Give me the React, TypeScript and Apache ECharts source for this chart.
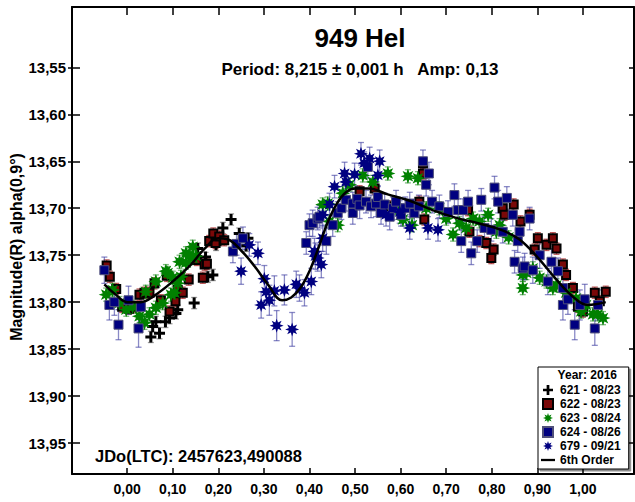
import React, { useEffect, useRef } from "react";
import * as echarts from "echarts";

// Rotational phase ticks and magnitude ticks
const PHASE_TICKS = [0, 0.1, 0.2, 0.3, 0.4, 0.5, 0.6, 0.7, 0.8, 0.9, 1.0];
const MAG_TICKS = [13.55, 13.6, 13.65, 13.7, 13.75, 13.8, 13.85, 13.9, 13.95];

// Observations per session: [phase, reduced magnitude, error]
const obs621: number[][] = [
  [0.052, 13.837, 0.006], [0.056, 13.826, 0.006], [0.063, 13.821, 0.006], [0.071, 13.833, 0.006],
  [0.084, 13.821, 0.006], [0.093, 13.817, 0.006], [0.107, 13.812, 0.006], [0.111, 13.808, 0.005],
  [0.147, 13.801, 0.006], [0.155, 13.743, 0.006], [0.172, 13.752, 0.005], [0.177, 13.773, 0.006],
  [0.188, 13.771, 0.006], [0.195, 13.739, 0.006], [0.205, 13.731, 0.005], [0.210, 13.721, 0.006],
  [0.228, 13.712, 0.006], [0.246, 13.727, 0.006], [0.261, 13.740, 0.006], [0.265, 13.732, 0.006],
];

const obs622: number[][] = [
  [-0.045, 13.761, 0.006], [-0.038, 13.773, 0.006], [-0.024, 13.786, 0.006], [-0.011, 13.805, 0.006],
  [0.004, 13.807, 0.006], [0.016, 13.805, 0.006], [0.027, 13.792, 0.006], [0.038, 13.79, 0.006],
  [0.049, 13.79, 0.006], [0.06, 13.78, 0.006], [0.074, 13.798, 0.006], [0.087, 13.772, 0.006],
  [0.093, 13.81, 0.006], [0.106, 13.799, 0.006], [0.111, 13.787, 0.006], [0.122, 13.79, 0.006],
  [0.135, 13.776, 0.006], [0.153, 13.755, 0.006], [0.166, 13.774, 0.006], [0.17, 13.76, 0.006],
  [0.175, 13.759, 0.006], [0.18, 13.735, 0.006], [0.189, 13.727, 0.006], [0.194, 13.737, 0.006],
  [0.202, 13.73, 0.006], [0.213, 13.734, 0.006], [0.51, 13.682, 0.006], [0.543, 13.679, 0.006],
  [0.579, 13.698, 0.006], [0.641, 13.693, 0.006], [0.649, 13.652, 0.006], [0.649, 13.663, 0.006],
  [0.652, 13.712, 0.006], [0.748, 13.702, 0.006], [0.751, 13.725, 0.006], [0.773, 13.735, 0.006],
  [0.788, 13.737, 0.006], [0.799, 13.753, 0.006], [0.804, 13.744, 0.006], [0.824, 13.7, 0.006],
  [0.828, 13.707, 0.006], [0.848, 13.696, 0.006], [0.863, 13.714, 0.006], [0.883, 13.707, 0.006],
  [0.894, 13.744, 0.006], [0.901, 13.732, 0.006], [0.92, 13.739, 0.006], [0.934, 13.732, 0.006],
  [0.942, 13.743, 0.006], [0.956, 13.76, 0.006], [0.963, 13.771, 0.006], [0.978, 13.785, 0.006],
  [0.989, 13.805, 0.006], [1.0, 13.81, 0.006], [1.026, 13.79, 0.006], [1.037, 13.799, 0.006],
  [1.05, 13.789, 0.006],
];

const obs623: number[][] = [
  [-0.046, 13.792, 0.007], [-0.032, 13.787, 0.007], [-0.017, 13.801, 0.007], [-0.002, 13.808, 0.007],
  [0.012, 13.805, 0.007], [0.027, 13.815, 0.007], [0.038, 13.822, 0.007], [0.041, 13.789, 0.007],
  [0.049, 13.813, 0.007], [0.063, 13.806, 0.007], [0.063, 13.778, 0.007], [0.078, 13.801, 0.007],
  [0.085, 13.767, 0.007], [0.089, 13.769, 0.007], [0.096, 13.792, 0.007], [0.1, 13.774, 0.007],
  [0.104, 13.79, 0.007], [0.111, 13.78, 0.007], [0.115, 13.757, 0.007], [0.118, 13.773, 0.007],
  [0.129, 13.758, 0.007], [0.129, 13.748, 0.007], [0.137, 13.75, 0.007], [0.144, 13.741, 0.007],
  [0.144, 13.753, 0.007], [0.151, 13.751, 0.007], [0.429, 13.696, 0.007], [0.44, 13.695, 0.007],
  [0.444, 13.714, 0.007], [0.462, 13.718, 0.007], [0.473, 13.684, 0.007], [0.488, 13.675, 0.007],
  [0.517, 13.665, 0.007], [0.539, 13.672, 0.007], [0.572, 13.663, 0.007], [0.59, 13.7, 0.007],
  [0.605, 13.712, 0.007], [0.616, 13.666, 0.007], [0.625, 13.718, 0.007], [0.638, 13.668, 0.007],
  [0.656, 13.7, 0.007], [0.685, 13.7, 0.007], [0.7, 13.711, 0.007], [0.715, 13.728, 0.007],
  [0.729, 13.716, 0.007], [0.744, 13.721, 0.007], [0.759, 13.711, 0.007], [0.773, 13.714, 0.007],
  [0.792, 13.707, 0.007], [0.81, 13.725, 0.007], [0.817, 13.718, 0.007], [0.837, 13.731, 0.007],
  [0.868, 13.771, 0.007], [0.868, 13.785, 0.007], [0.876, 13.769, 0.007], [0.89, 13.764, 0.007],
  [0.905, 13.774, 0.007], [0.92, 13.778, 0.007], [0.934, 13.785, 0.007], [0.942, 13.782, 0.007],
  [0.963, 13.79, 0.007], [0.985, 13.796, 0.007], [0.996, 13.81, 0.007], [1.007, 13.803, 0.007],
  [1.022, 13.813, 0.007], [1.033, 13.813, 0.007], [1.044, 13.817, 0.007],
];

const obs624: number[][] = [
  [-0.05, 13.766, 0.014], [-0.039, 13.803, 0.016], [-0.028, 13.8, 0.014], [-0.019, 13.824, 0.016],
  [0.003, 13.798, 0.015], [0.025, 13.828, 0.02], [0.03, 13.805, 0.016], [0.232, 13.746, 0.012],
  [0.24, 13.738, 0.012], [0.254, 13.732, 0.012], [0.393, 13.737, 0.012], [0.4, 13.718, 0.012],
  [0.407, 13.716, 0.014], [0.418, 13.711, 0.012], [0.422, 13.709, 0.012], [0.437, 13.735, 0.014],
  [0.451, 13.718, 0.012], [0.462, 13.705, 0.012], [0.47, 13.7, 0.012], [0.48, 13.691, 0.012],
  [0.495, 13.695, 0.012], [0.495, 13.705, 0.012], [0.505, 13.69, 0.012], [0.51, 13.697, 0.014],
  [0.524, 13.693, 0.012], [0.528, 13.656, 0.012], [0.535, 13.698, 0.012], [0.546, 13.695, 0.014],
  [0.55, 13.688, 0.012], [0.557, 13.705, 0.012], [0.565, 13.696, 0.012], [0.576, 13.709, 0.014],
  [0.583, 13.7, 0.012], [0.59, 13.693, 0.012], [0.601, 13.707, 0.012], [0.61, 13.7, 0.012],
  [0.62, 13.695, 0.012], [0.63, 13.705, 0.012], [0.64, 13.698, 0.012], [0.649, 13.65, 0.012],
  [0.656, 13.675, 0.012], [0.662, 13.663, 0.012], [0.669, 13.693, 0.012], [0.685, 13.698, 0.012],
  [0.704, 13.704, 0.012], [0.718, 13.686, 0.012], [0.726, 13.702, 0.012], [0.733, 13.735, 0.012],
  [0.737, 13.702, 0.012], [0.748, 13.693, 0.012], [0.755, 13.748, 0.012], [0.768, 13.735, 0.012],
  [0.777, 13.691, 0.012], [0.784, 13.721, 0.012], [0.799, 13.723, 0.012], [0.806, 13.678, 0.012],
  [0.814, 13.693, 0.012], [0.824, 13.725, 0.012], [0.833, 13.689, 0.012], [0.846, 13.707, 0.012],
  [0.85, 13.757, 0.012], [0.857, 13.735, 0.012], [0.861, 13.725, 0.012], [0.868, 13.764, 0.012],
  [0.872, 13.762, 0.014], [0.883, 13.711, 0.012], [0.89, 13.766, 0.014], [0.905, 13.75, 0.014],
  [0.923, 13.778, 0.014], [0.931, 13.757, 0.014], [0.945, 13.767, 0.014], [0.956, 13.785, 0.016],
  [0.956, 13.803, 0.016], [0.967, 13.797, 0.016], [0.982, 13.824, 0.016], [0.993, 13.803, 0.016],
  [1.004, 13.797, 0.016], [1.026, 13.828, 0.018], [1.033, 13.803, 0.016],
];

const obs679: number[][] = [
  [0.25, 13.767, 0.014], [0.268, 13.739, 0.012], [0.287, 13.748, 0.012], [0.294, 13.803, 0.014],
  [0.301, 13.775, 0.014], [0.305, 13.789, 0.014], [0.312, 13.798, 0.016], [0.323, 13.788, 0.016],
  [0.328, 13.825, 0.016], [0.345, 13.787, 0.016], [0.362, 13.829, 0.018], [0.371, 13.781, 0.014],
  [0.378, 13.785, 0.014], [0.389, 13.79, 0.014], [0.404, 13.778, 0.014], [0.411, 13.746, 0.014],
  [0.413, 13.751, 0.014], [0.418, 13.753, 0.014], [0.426, 13.76, 0.014], [0.429, 13.732, 0.014],
  [0.429, 13.707, 0.012], [0.444, 13.696, 0.012], [0.455, 13.677, 0.012], [0.477, 13.663, 0.012],
  [0.48, 13.672, 0.012], [0.499, 13.664, 0.012], [0.513, 13.642, 0.012], [0.52, 13.652, 0.012],
  [0.532, 13.647, 0.012], [0.55, 13.665, 0.012], [0.554, 13.65, 0.012], [0.568, 13.707, 0.012],
  [0.598, 13.704, 0.012], [0.62, 13.721, 0.012], [0.66, 13.721, 0.012], [0.682, 13.723, 0.012],
];

// 6th order Fourier fit, sampled along phase
const fitCurve: number[][] = [
  [-0.05, 13.781], [-0.025, 13.792], [0.0, 13.8], [0.03, 13.8], [0.06, 13.793], [0.1, 13.778],
  [0.14, 13.76], [0.17, 13.743], [0.2, 13.732], [0.22, 13.733], [0.25, 13.745], [0.28, 13.762],
  [0.31, 13.782], [0.34, 13.798], [0.36, 13.795], [0.38, 13.785], [0.4, 13.767], [0.42, 13.742],
  [0.44, 13.715], [0.46, 13.695], [0.48, 13.683], [0.5, 13.679], [0.53, 13.679], [0.57, 13.685],
  [0.62, 13.692], [0.67, 13.702], [0.72, 13.71], [0.77, 13.716], [0.82, 13.723], [0.86, 13.733],
  [0.9, 13.752], [0.94, 13.775], [0.98, 13.795], [1.01, 13.803], [1.05, 13.8],
];

const FONT = "'Liberation Sans', Arial, sans-serif";
const PLUS = "path://M4,0H7V4H11V7H7V11H4V7H0V4H4Z";
const SQUARE = "path://M0,0H10V10H0Z";
const DASH = "path://M0,0H16V2.6H0Z";
// eight-armed asterisk
const STAR =
  "path://M20,10L14.6,11.9L17.07,17.07L11.9,14.6L10,20L8.1,14.6L2.93,17.07L5.4,11.9L0,10L5.4,8.1L2.93,2.93L8.1,5.4L10,0L11.9,5.4L17.07,2.93L14.6,8.1Z";

const comma2 = (v: number) => v.toFixed(2).replace(".", ",");

function errorBars(name: string, data: number[][], color: string) {
  return {
    name,
    type: "custom",
    data,
    encode: { x: 0, y: 1 },
    silent: true,
    renderItem: (_params: any, api: any) => {
      const x = api.value(0);
      const y = api.value(1);
      const e = api.value(2);
      const a = api.coord([x, y - e]);
      const b = api.coord([x, y + e]);
      const cap = 3;
      const style = { stroke: color, lineWidth: 1.3 };
      return {
        type: "group",
        children: [
          { type: "line", shape: { x1: a[0], y1: a[1], x2: b[0], y2: b[1] }, style },
          { type: "line", shape: { x1: a[0] - cap, y1: a[1], x2: a[0] + cap, y2: a[1] }, style },
          { type: "line", shape: { x1: b[0] - cap, y1: b[1], x2: b[0] + cap, y2: b[1] }, style },
        ],
      };
    },
  };
}

export default function App() {
  const ref = useRef<HTMLDivElement>(null);

  useEffect(() => {
    if (!ref.current) return;
    const chart = echarts.init(ref.current, null, { renderer: "svg" });

    const axisLine = { show: true, onZero: false, lineStyle: { color: "#000", width: 2 } };
    const xBase = { type: "value", min: -0.121, max: 1.112, splitLine: { show: false } };
    const yBase = { type: "value", min: 13.4857, max: 13.983, inverse: true, splitLine: { show: false } };
    const tickStyle = { color: "#000", width: 1.5 };

    chart.setOption({
      animation: false,
      backgroundColor: "#fff",
      textStyle: { fontFamily: FONT },
      title: [
        {
          text: "949 Hel",
          left: 355,
          top: 20,
          textAlign: "center",
          textStyle: { fontFamily: FONT, fontWeight: "bold", fontSize: 26, color: "#000" },
        },
        {
          text: "Period: 8,215 \u00b1 0,001 h   Amp: 0,13",
          left: 355,
          top: 56,
          textAlign: "center",
          textStyle: { fontFamily: FONT, fontWeight: "bold", fontSize: 17, color: "#000" },
        },
        {
          text: "JDo(LTC): 2457623,490088",
          left: 90,
          top: 442,
          textStyle: { fontFamily: FONT, fontWeight: "bold", fontSize: 16.5, color: "#000" },
        },
      ],
      grid: { left: 72, right: 1, top: 7, bottom: 28, containLabel: false },
      xAxis: [
        {
          ...xBase,
          position: "bottom",
          axisLine,
          axisTick: { show: true, inside: true, length: 6, customValues: PHASE_TICKS, lineStyle: tickStyle },
          axisLabel: {
            customValues: PHASE_TICKS,
            formatter: comma2,
            margin: 8,
            fontFamily: FONT,
            fontWeight: "bold",
            fontSize: 14,
            color: "#000",
          },
        },
        {
          ...xBase,
          position: "top",
          axisLine,
          axisTick: { show: true, inside: true, length: 8, customValues: PHASE_TICKS, lineStyle: tickStyle },
          axisLabel: { show: false },
        },
      ],
      yAxis: [
        {
          ...yBase,
          position: "left",
          axisLine,
          axisTick: { show: true, inside: true, length: 8, customValues: MAG_TICKS, lineStyle: tickStyle },
          axisLabel: {
            customValues: MAG_TICKS,
            formatter: comma2,
            margin: 6,
            fontFamily: FONT,
            fontWeight: "bold",
            fontSize: 15,
            color: "#000",
          },
        },
        {
          ...yBase,
          position: "right",
          axisLine,
          axisTick: { show: true, inside: true, length: 5, customValues: MAG_TICKS, lineStyle: tickStyle },
          axisLabel: { show: false },
        },
        {
          // short outward ticks on the left frame
          ...yBase,
          position: "left",
          axisLine: { show: false, onZero: false },
          axisTick: { show: true, inside: false, length: 4, customValues: MAG_TICKS, lineStyle: tickStyle },
          axisLabel: { show: false },
        },
      ],
      legend: {
        orient: "vertical",
        left: 538,
        top: 367,
        padding: [16, 8, 2, 3],
        itemWidth: 14,
        itemHeight: 10,
        itemGap: 0,
        backgroundColor: "#fff",
        borderColor: "#000",
        borderWidth: 1,
        shadowColor: "rgba(0,0,0,0.45)",
        shadowBlur: 1,
        shadowOffsetX: 2,
        shadowOffsetY: 2,
        textStyle: { fontFamily: FONT, fontWeight: "bold", fontSize: 12, color: "#000", lineHeight: 14 },
        data: [
          { name: "621 - 08/23", icon: PLUS },
          { name: "622 - 08/23", icon: SQUARE },
          { name: "623 - 08/24", icon: STAR },
          { name: "624 - 08/26", icon: SQUARE },
          { name: "679 - 09/21", icon: STAR },
          { name: "6th Order", icon: DASH },
        ],
      },
      graphic: [
        {
          type: "text",
          x: 617,
          y: 375,
          z: 100,
          style: {
            text: "Year: 2016",
            align: "right",
            verticalAlign: "middle",
            font: `bold 12px ${FONT}`,
            fill: "#000",
          },
        },
        {
          type: "text",
          x: 16,
          y: 247,
          rotation: Math.PI / 2,
          style: {
            text: "Magnitude(R) alpha(0,9\u00b0)",
            align: "center",
            verticalAlign: "middle",
            font: `bold 16px ${FONT}`,
            fill: "#000",
          },
        },
      ],
      series: [
        errorBars("err621", obs621, "rgba(90,90,90,0.6)"),
        errorBars("err622", obs622, "rgba(170,40,40,0.75)"),
        errorBars("err623", obs623, "rgba(40,140,40,0.6)"),
        errorBars("err624", obs624, "rgba(60,60,160,0.6)"),
        errorBars("err679", obs679, "rgba(60,60,160,0.6)"),
        {
          name: "621 - 08/23",
          type: "scatter",
          data: obs621,
          symbol: PLUS,
          symbolSize: 11,
          itemStyle: { color: "#000", opacity: 1 },
        },
        {
          name: "622 - 08/23",
          type: "scatter",
          data: obs622,
          symbol: "rect",
          symbolSize: 8,
          itemStyle: { color: "#7a0808", borderColor: "#000", borderWidth: 2, opacity: 1 },
        },
        {
          name: "623 - 08/24",
          type: "scatter",
          data: obs623,
          symbol: STAR,
          symbolSize: 15,
          itemStyle: { color: "#008000", opacity: 1 },
        },
        {
          name: "6th Order",
          type: "line",
          data: fitCurve,
          smooth: 0.4,
          showSymbol: false,
          symbol: "none",
          lineStyle: { color: "#000", width: 2.5 },
          itemStyle: { color: "#000" },
        },
        {
          name: "624 - 08/26",
          type: "scatter",
          data: obs624,
          symbol: "rect",
          symbolSize: 9,
          itemStyle: { color: "#000080", borderColor: "#50507a", borderWidth: 1, opacity: 1 },
        },
        {
          name: "679 - 09/21",
          type: "scatter",
          data: obs679,
          symbol: STAR,
          symbolSize: 14,
          itemStyle: { color: "#000080", opacity: 1 },
        },
      ],
    });

    return () => chart.dispose();
  }, []);

  return (
    <div
      ref={ref}
      style={{ position: "fixed", left: 0, top: 0, width: 635, height: 502, background: "#fff" }}
    />
  );
}
